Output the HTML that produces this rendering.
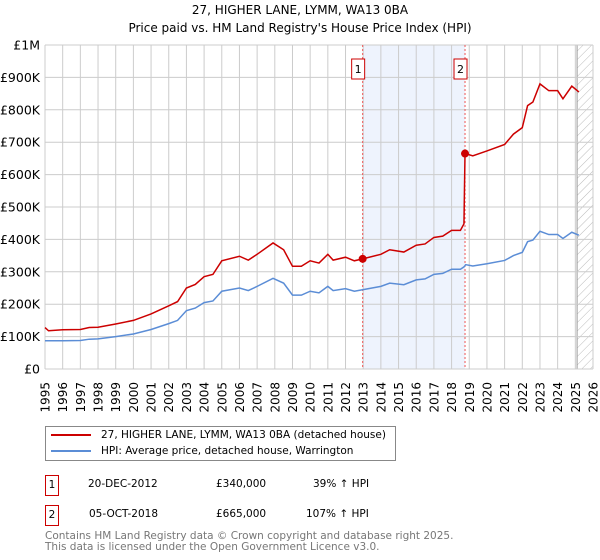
<!DOCTYPE html>
<html><head><meta charset="utf-8"><style>
body{margin:0;background:#fff;font-family:"DejaVu Sans","Liberation Sans",sans-serif;}
#wrap{position:relative;width:600px;height:560px;overflow:hidden}
.t{position:absolute;white-space:nowrap;color:#000}
</style></head><body><div id="wrap">
<div class="t" style="left:0;width:600px;text-align:center;top:1px;font-size:12px;line-height:18px">27, HIGHER LANE, LYMM, WA13 0BA<br>Price paid vs. HM Land Registry's House Price Index (HPI)</div>
<svg id="chart" width="600" height="420" style="position:absolute;left:0;top:0" font-family="DejaVu Sans, Liberation Sans, sans-serif"></svg>
<div style="position:absolute;left:45px;top:426px;width:349px;height:33px;border:1px solid #888;font-size:10.5px">
 <div style="position:absolute;left:5px;top:2px;white-space:nowrap"><span style="display:inline-block;width:40px;height:2px;background:#cc0000;vertical-align:middle;margin-right:10px"></span>27, HIGHER LANE, LYMM, WA13 0BA (detached house)</div>
 <div style="position:absolute;left:5px;top:18px;white-space:nowrap"><span style="display:inline-block;width:40px;height:2px;background:#5b8dd6;vertical-align:middle;margin-right:10px"></span>HPI: Average price, detached house, Warrington</div>
</div>
<div style="position:absolute;left:0;top:475px;font-size:10.5px">
 <div class="t" style="left:45px;top:0;width:12px;height:19px;border:1px solid #cc0000;text-align:center;line-height:19px">1</div>
 <div class="t" style="left:88px;top:3px">20-DEC-2012</div>
 <div class="t" style="left:216px;top:3px">£340,000</div>
 <div class="t" style="left:313px;top:3px">39% ↑ HPI</div>
</div>
<div style="position:absolute;left:0;top:505px;font-size:10.5px">
 <div class="t" style="left:45px;top:0;width:12px;height:19px;border:1px solid #cc0000;text-align:center;line-height:19px">2</div>
 <div class="t" style="left:89px;top:3px">05-OCT-2018</div>
 <div class="t" style="left:216px;top:3px">£665,000</div>
 <div class="t" style="left:306px;top:3px">107% ↑ HPI</div>
</div>
<div class="t" style="left:45px;top:531px;font-size:10.5px;line-height:11px;color:#777">Contains HM Land Registry data © Crown copyright and database right 2025.<br>This data is licensed under the Open Government Licence v3.0.</div>
</div>
<script>
const hpiYears=[1995,1996,1997,1997.5,1998,1999,2000,2001,2002,2002.5,2003,2003.5,2004,2004.5,2005,2006,2006.5,2007,2007.9,2008.5,2009,2009.5,2010,2010.5,2011,2011.3,2012,2012.5,2013,2014,2014.5,2015.3,2016,2016.5,2017,2017.5,2018,2018.5,2018.7,2018.8,2019.2,2020,2021,2021.5,2022,2022.3,2022.6,2023,2023.5,2024,2024.3,2024.8,2025.2];
const hpiValues=[87,87,88,92,93,100,108,122,140,150,180,188,205,210,240,250,242,255,280,265,228,228,240,235,255,242,248,240,245,255,265,260,275,278,292,295,308,308,315,322,318,325,335,350,360,393,398,425,415,415,403,422,413];
const redYears=[1995,1995.2,1996,1997,1997.5,1998,1999,2000,2001,2002,2002.5,2003,2003.5,2004,2004.5,2005,2006,2006.5,2007,2007.9,2008.5,2009,2009.5,2010,2010.5,2011,2011.3,2012,2012.5,2012.97,2014,2014.5,2015.3,2016,2016.5,2017,2017.5,2018,2018.5,2018.7,2018.76,2019.2,2020,2021,2021.5,2022,2022.3,2022.6,2023,2023.5,2024,2024.3,2024.8,2025.2];
const redValues=[128,118,121,122,128,129,139,150,170,195,208,250,261,285,292,334,348,336,354,389,368,317,317,334,327,354,336,345,334,340,354,368,361,382,386,406,410,428,428,448,665,658,673,693,725,745,813,824,880,859,859,834,873,855];
const saleYears=[2012.97,2018.76];
const saleValues=[340,665];
const saleLabels=["1","2"];
const yTicks=[0,100,200,300,400,500,600,700,800,900,1000];
const yTickLabels=["£0","£100K","£200K","£300K","£400K","£500K","£600K","£700K","£800K","£900K","£1M"];
const xYears=[1995,1996,1997,1998,1999,2000,2001,2002,2003,2004,2005,2006,2007,2008,2009,2010,2011,2012,2013,2014,2015,2016,2017,2018,2019,2020,2021,2022,2023,2024,2025,2026];
const forecastStart=2025.1;
const X0=45,X1=593,Y0=369,Y1=45;
const sx=y=>X0+(y-1995)/(2026-1995)*(X1-X0);
const sy=v=>Y0-v/1000*(Y0-Y1);
const svg=document.getElementById('chart');
const NS='http://www.w3.org/2000/svg';
function mk(t,a){const e=document.createElementNS(NS,t);for(const k in a)e.setAttribute(k,a[k]);svg.appendChild(e);return e;}
const defs=mk('defs',{});
const pat=document.createElementNS(NS,'pattern');
pat.setAttribute('id','hatch');pat.setAttribute('width','6');pat.setAttribute('height','6');pat.setAttribute('patternUnits','userSpaceOnUse');pat.setAttribute('patternTransform','rotate(45)');
const pl=document.createElementNS(NS,'line');pl.setAttribute('x1','0');pl.setAttribute('y1','0');pl.setAttribute('x2','0');pl.setAttribute('y2','6');pl.setAttribute('stroke','#bbb');pl.setAttribute('stroke-width','1');
pat.appendChild(pl);defs.appendChild(pat);
let e=mk('rect',{x:sx(saleYears[0]),y:Y1,width:sx(saleYears[1])-sx(saleYears[0]),height:Y0-Y1,fill:'#eef3fd'});


e=mk('rect',{x:sx(forecastStart),y:Y1,width:X1-sx(forecastStart),height:Y0-Y1,fill:'url(#hatch)'});


e=mk('line',{x1:sx(forecastStart),x2:sx(forecastStart),y1:Y1,y2:Y0,stroke:'#999','stroke-width':1});


xYears.forEach(y=>{
 const g=mk('line',{x1:sx(y),x2:sx(y),y1:Y1,y2:Y0,stroke:'#cccccc','stroke-width':1});
 
 
 const t=mk('text',{x:0,y:0,transform:`translate(${sx(y)+4.5},${382}) rotate(-90)`,'text-anchor':'end','font-size':'12'});
 
 
 t.textContent=y;
});
yTicks.forEach((v,i)=>{
 const g=mk('line',{x1:X0,x2:X1,y1:sy(v),y2:sy(v),stroke:'#cccccc','stroke-width':1});
 
 
 const t=mk('text',{x:40,y:sy(v)+4.5,'text-anchor':'end','font-size':'12.5'});
 
 
 t.textContent=yTickLabels[i];
});
saleYears.forEach((y,i)=>{
 const l=mk('line',{x1:sx(y),x2:sx(y),y1:Y1,y2:Y0,stroke:'#ee5555','stroke-width':1,'stroke-dasharray':'2,2'});
 
 
 const r=mk('rect',{x:sx(y)-11,y:59,width:13,height:20,fill:'#fff',stroke:'#cc0000','stroke-width':1});
 
 
 const t=mk('text',{x:sx(y)-4.5,y:73,'text-anchor':'middle','font-size':'11'});
 
 
 t.textContent=saleLabels[i];
});
const hp=mk('polyline',{points:hpiYears.map((y,i)=>sx(y)+','+sy(hpiValues[i])).join(' '),fill:'none',stroke:'#5b8dd6','stroke-width':1.5});


const rp=mk('polyline',{points:redYears.map((y,i)=>sx(y)+','+sy(redValues[i])).join(' '),fill:'none',stroke:'#cc0000','stroke-width':1.5});


saleYears.forEach((y,i)=>{
 const c=mk('circle',{cx:sx(y),cy:sy(saleValues[i]),r:4,fill:'#cc0000'});
 
 
});
</script></body></html>
